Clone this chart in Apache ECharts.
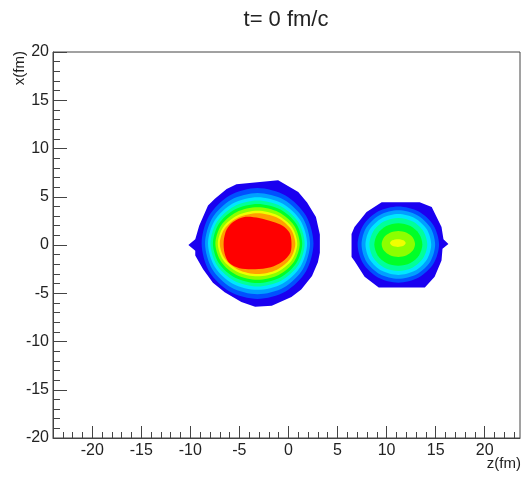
<!DOCTYPE html>
<html>
<head>
<meta charset="utf-8">
<script src="https://cdn.jsdelivr.net/npm/echarts@6/dist/echarts.min.js"></script>
<style>
html, body { margin: 0; padding: 0; background: #fff; }
#chart { width: 523px; height: 477px; }
</style>
</head>
<body>
<div id="chart"></div>
<script>
// Density level colours, from the dilute edge (0) to the dense core (9)
const levelColors = ['#1a00f0', '#0050ff', '#00a0ff', '#00e6ff', '#00ff9a',
                     '#00ff28', '#8cff00', '#f0ff00', '#ffa000', '#ff0000'];

// Tick values (fm)
const zMajorTicks = [-20, -15, -10, -5, 0, 5, 10, 15, 20];
const zMinorTicks = [-23, -22, -21, -20, -19, -18, -17, -16, -15, -14, -13, -12, -11, -10,
                     -9, -8, -7, -6, -5, -4, -3, -2, -1, 0, 1, 2, 3, 4, 5, 6, 7, 8, 9, 10,
                     11, 12, 13, 14, 15, 16, 17, 18, 19, 20, 21, 22, 23];

// Heavier nucleus: iso-density outlines [z, x] in fm, outermost first
const leftContours = [
  [[-5.3, 6.3], [-1.05, 6.7], [1.0, 5.5], [1.9, 4.4], [2.8, 2.9], [3.2, 1.1], [3.2, -0.8],
   [3.0, -1.8], [2.4, -3.2], [1.3, -4.6], [0.3, -5.4], [-1.7, -6.3], [-3.4, -6.4],
   [-4.8, -5.9], [-6.5, -4.9], [-7.7, -3.9], [-8.7, -2.5], [-9.5, -1.1], [-9.5, -0.6],
   [-10.2, 0.0], [-9.5, 0.6], [-9.1, 2.0], [-8.2, 4.1], [-7.5, 4.8], [-6.3, 5.8]],
  [[2.55, 0.15], [1.79, 3.03], [-0.30, 5.13], [-3.15, 5.90], [-6.00, 5.13], [-8.09, 3.03],
   [-8.85, 0.15], [-8.09, -2.73], [-6.00, -4.83], [-3.15, -5.60], [-0.30, -4.83], [1.79, -2.73]],
  [[2.20, 0.15], [1.48, 2.78], [-0.47, 4.70], [-3.15, 5.40], [-5.83, 4.70], [-7.78, 2.78],
   [-8.50, 0.15], [-7.78, -2.48], [-5.83, -4.40], [-3.15, -5.10], [-0.47, -4.40], [1.48, -2.48]],
  [[1.90, 0.15], [1.22, 2.55], [-0.62, 4.31], [-3.15, 4.95], [-5.68, 4.31], [-7.52, 2.55],
   [-8.20, 0.15], [-7.52, -2.25], [-5.68, -4.01], [-3.15, -4.65], [-0.62, -4.01], [1.22, -2.25]],
  [[1.65, 0.15], [1.01, 2.38], [-0.75, 4.00], [-3.15, 4.60], [-5.55, 4.00], [-7.31, 2.38],
   [-7.95, 0.15], [-7.31, -2.08], [-5.55, -3.70], [-3.15, -4.30], [-0.75, -3.70], [1.01, -2.08]],
  [[1.40, 0.15], [0.79, 2.20], [-0.87, 3.70], [-3.15, 4.25], [-5.43, 3.70], [-7.09, 2.20],
   [-7.70, 0.15], [-7.09, -1.90], [-5.43, -3.40], [-3.15, -3.95], [-0.87, -3.40], [0.79, -1.90]],
  [[1.15, 0.15], [0.57, 2.03], [-1.00, 3.40], [-3.15, 3.90], [-5.30, 3.40], [-6.87, 2.03],
   [-7.45, 0.15], [-6.87, -1.73], [-5.30, -3.10], [-3.15, -3.60], [-1.00, -3.10], [0.57, -1.73]],
  [[0.90, 0.15], [0.36, 1.85], [-1.12, 3.09], [-3.15, 3.55], [-5.18, 3.09], [-6.66, 1.85],
   [-7.20, 0.15], [-6.66, -1.55], [-5.18, -2.79], [-3.15, -3.25], [-1.12, -2.79], [0.36, -1.55]],
  [[0.70, 0.15], [0.18, 1.73], [-1.22, 2.88], [-3.15, 3.30], [-5.08, 2.88], [-6.48, 1.73],
   [-7.00, 0.15], [-6.48, -1.43], [-5.08, -2.58], [-3.15, -3.00], [-1.22, -2.58], [0.18, -1.43]],
  [[0.3, 0.4], [0.1, 1.3], [-0.6, 2.0], [-1.6, 2.4], [-3.0, 2.8], [-4.5, 2.9], [-5.6, 2.4],
   [-6.3, 1.6], [-6.6, 0.4], [-6.5, -0.9], [-6.0, -1.9], [-5.0, -2.4], [-3.4, -2.5],
   [-1.8, -2.3], [-0.6, -1.7], [0.2, -0.8]]
];
const leftLevels = [0, 1, 2, 3, 4, 5, 6, 7, 8, 9];

// Lighter nucleus: iso-density outlines [z, x] in fm, outermost first
const rightContours = [
  [[9.5, 4.43], [13.37, 4.43], [14.6, 3.95], [15.6, 1.87], [15.8, 0.6], [16.3, 0.1],
   [15.7, -0.4], [15.6, -1.6], [14.9, -3.3], [13.9, -4.4], [9.2, -4.4], [7.76, -3.3],
   [6.73, -1.66], [6.43, -1.25], [6.43, 1.14], [6.73, 1.87], [7.96, 3.43]],
  [[15.35, 0.05], [14.79, 2.03], [13.28, 3.47], [11.2, 4.00], [9.12, 3.47], [7.61, 2.03],
   [7.05, 0.05], [7.61, -1.93], [9.12, -3.37], [11.2, -3.90], [13.28, -3.37], [14.79, -1.93]],
  [[14.95, 0.05], [14.45, 1.83], [13.08, 3.12], [11.2, 3.60], [9.32, 3.12], [7.95, 1.83],
   [7.45, 0.05], [7.95, -1.73], [9.32, -3.02], [11.2, -3.50], [13.08, -3.02], [14.45, -1.73]],
  [[14.55, 0.05], [14.10, 1.63], [12.88, 2.78], [11.2, 3.20], [9.52, 2.78], [8.30, 1.63],
   [7.85, 0.05], [8.30, -1.53], [9.52, -2.68], [11.2, -3.10], [12.88, -2.68], [14.10, -1.53]],
  [[14.15, 0.05], [13.75, 1.43], [12.68, 2.43], [11.2, 2.80], [9.72, 2.43], [8.65, 1.43],
   [8.25, 0.05], [8.65, -1.33], [9.72, -2.33], [11.2, -2.70], [12.68, -2.33], [13.75, -1.33]],
  [[13.65, 0.05], [13.32, 1.15], [12.43, 1.96], [11.2, 2.25], [9.97, 1.96], [9.08, 1.15],
   [8.75, 0.05], [9.08, -1.05], [9.97, -1.86], [11.2, -2.15], [12.43, -1.86], [13.32, -1.05]],
  [[12.9, 0.1], [12.67, 0.78], [12.05, 1.27], [11.2, 1.45], [10.35, 1.27], [9.73, 0.78],
   [9.5, 0.1], [9.73, -0.58], [10.35, -1.07], [11.2, -1.25], [12.05, -1.07], [12.67, -0.58]],
  [[11.95, 0.2], [11.72, 0.48], [11.15, 0.6], [10.58, 0.48], [10.35, 0.2], [10.58, -0.08],
   [11.15, -0.2], [11.72, -0.08]]
];
const rightLevels = [0, 1, 2, 3, 4, 5, 6, 7];

const FONT = 'Liberation Sans, Arial, sans-serif';

// Filled contour bands, drawn outermost first so inner levels paint on top
function contourSeries(contours, levels) {
  return {
    type: 'custom',
    coordinateSystem: 'cartesian2d',
    xAxisIndex: 0,
    yAxisIndex: 0,
    silent: true,
    animation: false,
    data: contours.map((c, i) => [c[0][0], c[0][1], levels[i]]),
    renderItem: function (params, api) {
      const i = params.dataIndex;
      const pts = contours[i].map(p => api.coord(p));
      return {
        type: 'polygon',
        shape: { points: pts, smooth: i === 0 ? 0 : 0.3 },
        style: { fill: levelColors[levels[i]], stroke: null }
      };
    }
  };
}

const chart = echarts.init(document.getElementById('chart'), null, { renderer: 'canvas' });
const axisColor = '#444';
const zRange = { min: -24, max: 23.6 };

// Bottom axis: one carrier for the labels, one for the long ticks, one for the short ticks
function zAxis(opts) {
  return Object.assign({
    type: 'value', min: zRange.min, max: zRange.max, position: 'bottom',
    axisLine: { show: false, onZero: false },
    axisTick: { show: false },
    axisLabel: { show: false },
    splitLine: { show: false }
  }, opts);
}

chart.setOption({
  backgroundColor: '#fff',
  animation: false,
  grid: {
    left: 53, right: 3, top: 52, bottom: 39,
    show: true, borderColor: axisColor, borderWidth: 1, backgroundColor: 'transparent'
  },
  xAxis: [
    zAxis({
      axisLine: { show: true, onZero: false, lineStyle: { color: axisColor, width: 1 } },
      axisLabel: { show: true, customValues: zMajorTicks, margin: 5, fontSize: 16,
                   fontFamily: FONT, color: '#222' }
    }),
    zAxis({
      axisTick: { show: true, inside: true, length: 12, customValues: zMajorTicks,
                  lineStyle: { color: axisColor } }
    }),
    zAxis({
      axisTick: { show: true, inside: true, length: 6, customValues: zMinorTicks,
                  lineStyle: { color: axisColor } }
    })
  ],
  yAxis: {
    type: 'value', min: -20, max: 20, interval: 5,
    axisLine: { show: true, onZero: false, lineStyle: { color: axisColor, width: 1 } },
    axisTick: { show: true, inside: true, length: 14, lineStyle: { color: axisColor } },
    minorTick: { show: true, splitNumber: 5, length: 7, lineStyle: { color: axisColor } },
    axisLabel: { margin: 4, fontSize: 16, fontFamily: FONT, color: '#222' },
    splitLine: { show: false },
    minorSplitLine: { show: false }
  },
  graphic: [
    { type: 'text', x: 286, y: 20, silent: true,
      style: { text: 't= 0 fm/c', fontSize: 22, fontFamily: FONT, fill: '#222',
               align: 'center', verticalAlign: 'middle' } },
    { type: 'text', x: 521, y: 464, silent: true,
      style: { text: 'z(fm)', fontSize: 15, fontFamily: FONT, fill: '#222',
               align: 'right', verticalAlign: 'middle' } },
    { type: 'text', x: 20, y: 51, rotation: Math.PI / 2, silent: true,
      style: { text: 'x(fm)', fontSize: 15, fontFamily: FONT, fill: '#222',
               align: 'right', verticalAlign: 'middle' } }
  ],
  series: [
    contourSeries(leftContours, leftLevels),
    contourSeries(rightContours, rightLevels)
  ]
});
</script>
</body>
</html>
